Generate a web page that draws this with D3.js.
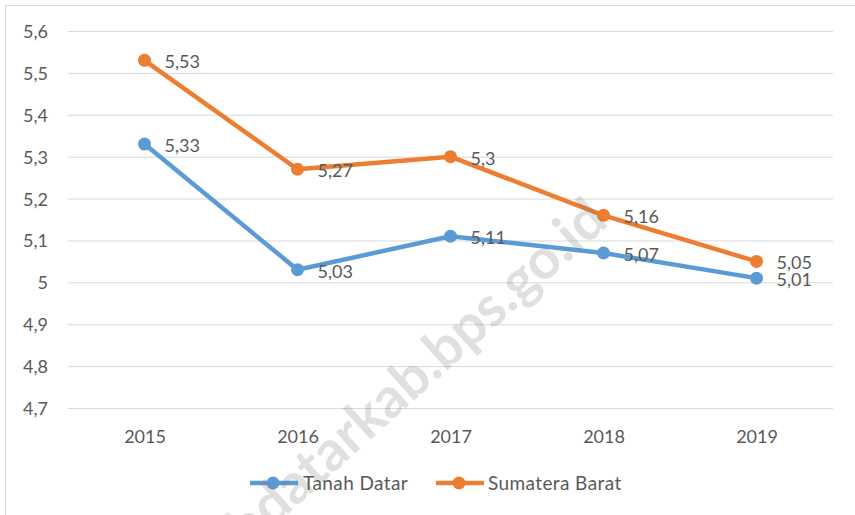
<!DOCTYPE html>
<html>
<head>
<meta charset="utf-8">
<script src="https://cdn.jsdelivr.net/npm/d3@7/dist/d3.min.js"></script>
<style>
  html, body { margin: 0; padding: 0; background: #fff; }
  svg { display: block; }
  text { font-family: Lato, "Noto Sans", sans-serif; fill: #595959; }
</style>
</head>
<body>
<svg id="chart" width="855" height="515"></svg>
<script>
// Years on the category axis
const years = ["2015", "2016", "2017", "2018", "2019"];
// Series values
const tanahDatar = [5.33, 5.03, 5.11, 5.07, 5.01];
const sumateraBarat = [5.53, 5.27, 5.30, 5.16, 5.05];
// Value axis ticks
const yTicks = [4.7, 4.8, 4.9, 5.0, 5.1, 5.2, 5.3, 5.4, 5.5, 5.6];
const seriesNames = ["Tanah Datar", "Sumatera Barat"];
const seriesColors = ["#5B9BD5", "#ED7D31"];
const watermark = "tanahdatarkab.bps.go.id";

const series = [
  { name: seriesNames[0], color: seriesColors[0], values: tanahDatar },
  { name: seriesNames[1], color: seriesColors[1], values: sumateraBarat }
];

const locale = d3.formatLocale({ decimal: ",", thousands: ".", grouping: [3], currency: ["", ""] });
const fmt = locale.format(".2~f");

const svg = d3.select("#chart");
const plot = { left: 68, right: 833, top: 31, bottom: 408 };

// Outer chart frame
svg.append("rect")
  .attr("x", 5.5).attr("y", 5.5)
  .attr("width", 900).attr("height", 600)
  .attr("fill", "none").attr("stroke", "#d9d9d9").attr("stroke-width", 1);

const x = d3.scalePoint().domain(years).range([plot.left, plot.right]).padding(0.5);
const y = d3.scaleLinear().domain([4.7, 5.6]).range([plot.bottom, plot.top]);

// Horizontal gridlines
const grid = svg.append("g")
  .attr("transform", `translate(${plot.left},0)`)
  .call(d3.axisLeft(y).tickValues(yTicks).tickSize(-(plot.right - plot.left)).tickFormat(""));
grid.select(".domain").remove();
grid.selectAll("line").attr("stroke", "#d9d9d9").attr("stroke-width", 1);

// Value axis labels
const yAxis = svg.append("g")
  .attr("transform", `translate(48,0)`)
  .call(d3.axisLeft(y).tickValues(yTicks).tickSize(0).tickPadding(0).tickFormat(d => locale.format("~g")(d)));
yAxis.select(".domain").remove();
yAxis.selectAll("text")
  .attr("font-size", 18).attr("dy", "0.36em").style("fill", "#595959")
  .style("font-family", "Lato, 'Noto Sans', sans-serif");

// Category axis labels
const xAxis = svg.append("g")
  .attr("transform", `translate(0,${plot.bottom})`)
  .call(d3.axisBottom(x).tickSize(0).tickPadding(0));
xAxis.select(".domain").remove();
xAxis.selectAll("text")
  .attr("font-size", 18).attr("y", 35).attr("dy", 0).style("fill", "#595959")
  .style("font-family", "Lato, 'Noto Sans', sans-serif");

// Lines, markers and value labels
const line = d3.line().x((d, i) => x(years[i])).y(d => y(d));
series.forEach(s => {
  const g = svg.append("g");
  g.append("path")
    .attr("d", line(s.values))
    .attr("fill", "none").attr("stroke", s.color)
    .attr("stroke-width", 4.5).attr("stroke-linejoin", "round").attr("stroke-linecap", "round");
  g.selectAll("circle").data(s.values).join("circle")
    .attr("cx", (d, i) => x(years[i])).attr("cy", d => y(d))
    .attr("r", 6.5).attr("fill", s.color);
  g.selectAll("text").data(s.values).join("text")
    .attr("x", (d, i) => x(years[i]) + 20).attr("y", d => y(d) + 8)
    .attr("font-size", 18)
    .text(d => fmt(d));
});

// Legend
const legendItems = [
  { x0: 250, textX: 303 },
  { x0: 436, textX: 488 }
];
series.forEach((s, i) => {
  const it = legendItems[i];
  const ly = 483;
  svg.append("line")
    .attr("x1", it.x0).attr("x2", it.x0 + 48).attr("y1", ly).attr("y2", ly)
    .attr("stroke", s.color).attr("stroke-width", 4.5);
  svg.append("circle").attr("cx", it.x0 + 23).attr("cy", ly).attr("r", 6.5).attr("fill", s.color);
  svg.append("text").attr("x", it.textX).attr("y", ly + 7)
    .attr("font-size", 19).attr("letter-spacing", 0.4).text(s.name);
});

// Site watermark across the plot
svg.append("text")
  .attr("transform", "translate(610,224) rotate(-42)")
  .attr("text-anchor", "end")
  .attr("font-size", 56).attr("font-weight", "bold")
  .style("fill", "#787878").style("fill-opacity", 0.23)
  .text(watermark);
</script>
</body>
</html>
